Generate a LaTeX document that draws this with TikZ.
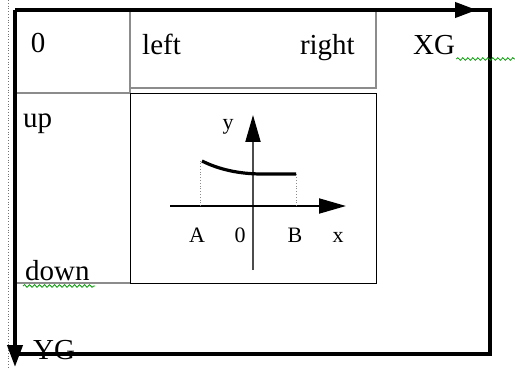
\documentclass[tikz,border=0pt]{standalone}
\usepackage{fontspec}
\setmainfont{Liberation Serif}
\usetikzlibrary{arrows.meta,decorations.pathmorphing}
\begin{document}
\begin{tikzpicture}[x=1pt,y=-1pt,
  big/.style={inner sep=0pt,font=\fontsize{29}{30}\selectfont},
  small/.style={inner sep=0pt,font=\fontsize{22}{24}\selectfont},
  grayline/.style={draw=black!45,line width=1.4pt},
  boxline/.style={draw=black,line width=1.4pt},
  thickline/.style={draw=black,line width=4pt},
  guide/.style={draw=black!55,line width=0.8pt,dotted},
  squiggle/.style={draw=green!60!black,line width=0.8pt,decorate,decoration={snake,amplitude=1.3pt,segment length=5pt}},
  axis/.style={line width=2pt,-{Triangle[length=27pt,width=15pt,color=black]}},
  bigarrow/.style={line width=4pt,-{Triangle[length=22pt,width=15pt]}}]
\useasboundingbox (0,0) rectangle (515,369);
% dotted guide at left
\coordinate (gt) at (8,0);
\coordinate (gb) at (8,369);
\draw[guide] (gt) -- (gb);
% outer frame
\coordinate (o) at (15,10);
\coordinate (ftr) at (490,10);
\coordinate (fbr) at (490,354);
\coordinate (fbl) at (15,354);
\coordinate (xg) at (477,10);
\coordinate (yg) at (15,367);
% table lines
\coordinate (c1t) at (130,10);
\coordinate (c1b) at (130,93);
\coordinate (c2t) at (376,10);
\coordinate (c2b) at (376,88);
\coordinate (r1l) at (15,93);
\coordinate (r1m) at (130,88);
\coordinate (r2l) at (15,283);
\draw[grayline] (c1t) -- (c1b);
\draw[grayline] (c2t) -- (c2b) -- (r1m);
\draw[grayline] (r1l) -- (c1b);
\draw[grayline] (r2l) -- (130,283);
% graph box
\node[boxline,minimum width=246pt,minimum height=190pt,anchor=north west,inner sep=0pt] (gbox) at (130,93) {};
% frame
\draw[thickline] (o) -- (ftr) -- (fbr) -- (fbl);
\draw[bigarrow] (o) -- (xg);
\draw[bigarrow] (o) -- (yg);
% axes
\coordinate (yb) at (253,270);
\coordinate (yt) at (253,115);
\coordinate (xl) at (170,206);
\coordinate (xr) at (346,206);
\draw[axis,draw=black!70] (yb) -- (yt);
\draw[axis] (xl) -- (xr);
% curve
\coordinate (pa) at (202,161);
\coordinate (pb) at (296,174);
\coordinate (qa) at (200,206);
\coordinate (qb) at (296,206);
\draw[guide,draw=black!45] (qa) -- (200,161);
\draw[guide,draw=black!45] (qb) -- (pb);
\draw[line width=3.2pt] (pa) .. controls (218,169) and (238,174) .. (262,174) -- (pb);
% labels
\node[big,anchor=base] (t0) at (38,53) {0};
\node[big,anchor=base west] (tleft) at (142,55) {left};
\node[big,anchor=base east] (tright) at (355,55) {right};
\node[big,anchor=base west] (txg) at (413,55) {XG};
\node[big,anchor=base west] (tup) at (23,128) {up};
\node[big,anchor=base west] (tdown) at (25,280) {down};
\node[big,anchor=base west] (tyg) at (33,359) {YG};
\node[small,anchor=base] (ly) at (228,130) {y};
\node[small,anchor=base] (la) at (197,242) {A};
\node[small,anchor=base] (l0) at (240,242) {0};
\node[small,anchor=base] (lb) at (295,242) {B};
\node[small,anchor=base] (lx) at (338,242) {x};
% spell-check squiggles
\draw[squiggle] (txg.base east) ++(1,4) -- (515,59);
\draw[squiggle] (tdown.base west) ++(-2,6) -- (95,286);
\end{tikzpicture}
\end{document}
